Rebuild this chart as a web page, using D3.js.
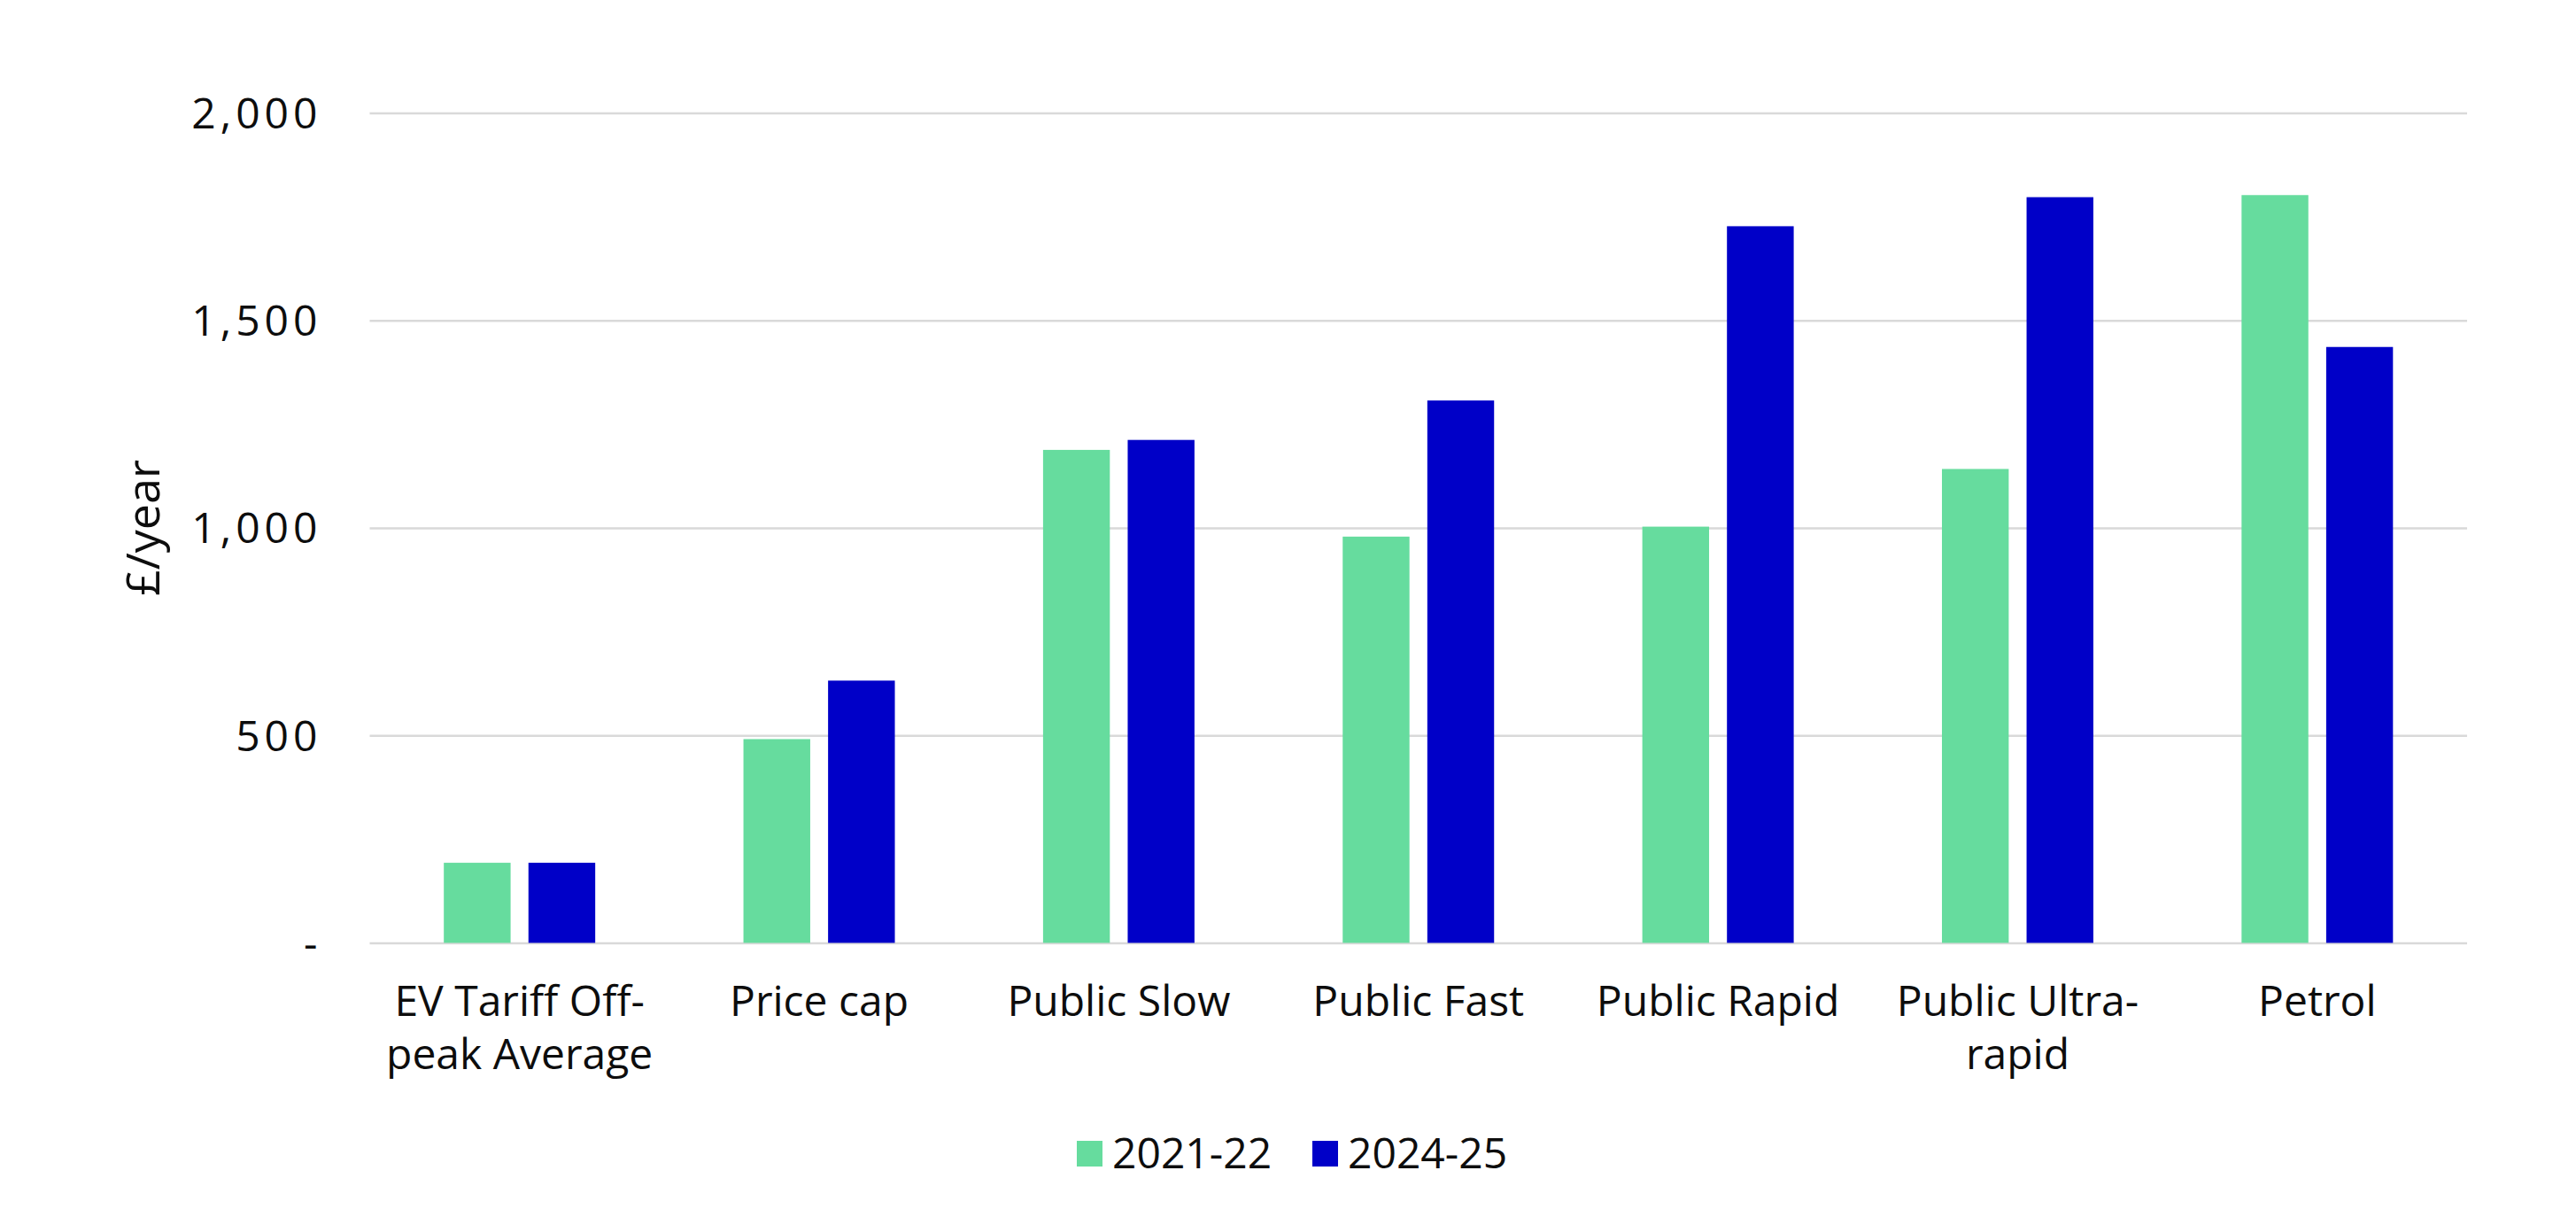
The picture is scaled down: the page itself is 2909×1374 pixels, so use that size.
<!DOCTYPE html>
<html>
<head>
<meta charset="utf-8">
<script src="https://cdn.jsdelivr.net/npm/d3@7"></script>
<style>
  html, body { margin: 0; padding: 0; background: #ffffff; }
  svg { display: block; }
  text { font-family: "Open Sans", "Noto Sans", sans-serif; fill: #0d0d0d; }
</style>
</head>
<body>
<svg id="chart" width="2909" height="1374"></svg>
<script>
// ---- data ----
const categories = [
  ["EV Tariff Off-", "peak Average"],
  ["Price cap"],
  ["Public Slow"],
  ["Public Fast"],
  ["Public Rapid"],
  ["Public Ultra-", "rapid"],
  ["Petrol"]
];
const seriesNames = ["2021-22", "2024-25"];
const values2021 = [193, 491, 1188, 979, 1003, 1142, 1802];
const values2024 = [193, 632, 1212, 1307, 1727, 1797, 1436];
const yTicks = [0, 500, 1000, 1500, 2000];
const yTickLabels = ["-", "500", "1,000", "1,500", "2,000"];
const yTitle = "£/year";
const colors = ["#66DC9E", "#0000C8"];

// ---- layout ----
const svg = d3.select("#chart");
const plotLeft = 417.5, plotRight = 2786, plotTop = 127.5, plotBottom = 1064.5;

const catKeys = categories.map((c, i) => i);
const x0 = d3.scaleBand().domain(catKeys).range([plotLeft, plotRight])
  .paddingInner(0.4947).paddingOuter(0.4947 / 2);
const x1 = d3.scaleBand().domain(seriesNames).range([0, x0.bandwidth()])
  .paddingInner(0.211).paddingOuter(0);
const y = d3.scaleLinear().domain([0, 2000]).range([plotBottom, plotTop]);

// gridlines
const yAxis = d3.axisLeft(y).tickValues(yTicks)
  .tickSize(-(plotRight - plotLeft)).tickPadding(54)
  .tickFormat((d, i) => yTickLabels[i]);
const gy = svg.append("g").attr("transform", `translate(${plotLeft},0)`).call(yAxis);
gy.select(".domain").remove();
gy.selectAll(".tick line").attr("stroke", "#d9d9d9").attr("stroke-width", 2.5);
gy.selectAll(".tick text")
  .style("font-size", "48px").style("font-family", "'Open Sans', sans-serif")
  .style("letter-spacing", "5px")
  .attr("fill", "#0d0d0d").attr("dy", "0.35em");

// bars
const seriesData = [values2021, values2024];
seriesData.forEach((vals, si) => {
  svg.append("g").selectAll("rect").data(vals).join("rect")
    .attr("x", (d, i) => x0(i) + x1(seriesNames[si]))
    .attr("y", d => y(d))
    .attr("width", x1.bandwidth())
    .attr("height", d => y(0) - y(d))
    .attr("fill", colors[si]);
});

// category labels
const gx = svg.append("g");
categories.forEach((lines, i) => {
  const cx = x0(i) + x0.bandwidth() / 2;
  const t = gx.append("text")
    .attr("x", cx)
    .attr("y", 1147)
    .attr("text-anchor", "middle")
    .style("font-size", "48px");
  lines.forEach((ln, j) => {
    t.append("tspan")
      .attr("x", cx)
      .attr("dy", j === 0 ? 0 : 60)
      .text(ln);
  });
});

// y title
svg.append("text")
  .attr("transform", `translate(180,${(plotTop + plotBottom) / 2}) rotate(-90)`)
  .attr("text-anchor", "middle")
  .style("font-size", "52px")
  .style("font-weight", "500")
  .text(yTitle);

// legend
const legendItems = [
  { name: seriesNames[0], color: colors[0], x: 1216 },
  { name: seriesNames[1], color: colors[1], x: 1482 }
];
const lg = svg.append("g");
legendItems.forEach(it => {
  lg.append("rect").attr("x", it.x).attr("y", 1288).attr("width", 29).attr("height", 29)
    .attr("fill", it.color);
  lg.append("text").attr("x", it.x + 40).attr("y", 1319)
    .style("font-size", "48px").text(it.name);
});
</script>
</body>
</html>
